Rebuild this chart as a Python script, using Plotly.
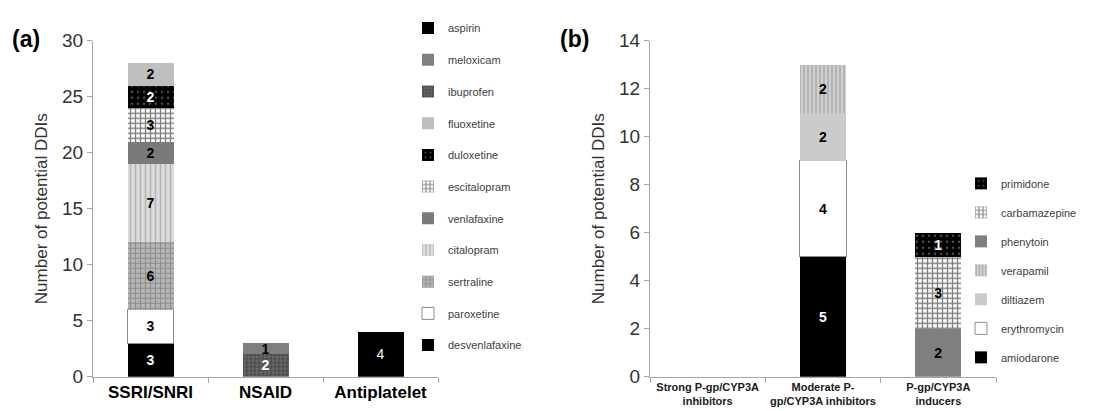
import plotly.graph_objects as go

# ---------------- data ----------------
cats_a = ["SSRI/SNRI", "NSAID", "Antiplatelet"]
desvenlafaxine = [3, None, None]
paroxetine = [3, None, None]
sertraline = [6, None, None]
citalopram = [7, None, None]
venlafaxine = [2, None, None]
escitalopram = [3, None, None]
duloxetine = [2, None, None]
fluoxetine = [2, None, None]
ibuprofen = [None, 2, None]
meloxicam = [None, 1, None]
aspirin = [None, None, 4]

cats_b = ["Strong P-gp/CYP3A<br>inhibitors", "Moderate P-<br>gp/CYP3A inhibitors", "P-gp/CYP3A<br>inducers"]
amiodarone = [None, 5, None]
erythromycin = [None, 4, None]
diltiazem = [None, 2, None]
verapamil = [None, 2, None]
phenytoin = [None, None, 2]
carbamazepine = [None, None, 3]
primidone = [None, None, 1]

W, H = 1094, 411

def px(xp):
    return xp / W

def py(yp):
    return (H - yp) / H

fig = go.Figure()
_rank = [1000]

def add(name, x, y, color, xaxis, yaxis, legend, pattern=None, textcolor="black",
        bold=True, outline=None):
    marker = dict(color=color)
    if pattern:
        marker["pattern"] = pattern
    if outline:
        marker["line"] = dict(color=outline, width=1)
    else:
        marker["line"] = dict(width=0)
    _rank[0] -= 1
    fig.add_trace(go.Bar(
        name=name, x=x, y=y, marker=marker,
        xaxis=xaxis, yaxis=yaxis, legend=legend, legendgroup=name,
        legendrank=_rank[0],
        texttemplate="%{y}", textposition="inside", insidetextanchor="middle",
        textangle=0, constraintext="none",
        textfont=dict(family="Liberation Sans", size=14, color=textcolor,
                      weight="bold" if bold else "normal"),
        hoverinfo="skip",
    ))

# panel (a)
add("desvenlafaxine", cats_a, desvenlafaxine, "#000000", "x", "y", "legend", textcolor="white")
add("paroxetine", cats_a, paroxetine, "#ffffff", "x", "y", "legend", outline="#8c8c8c")
add("sertraline", cats_a, sertraline, "#b5b5b5", "x", "y", "legend",
    pattern=dict(shape="+", fgcolor="#666666", size=5, solidity=0.4, fillmode="overlay"))
add("citalopram", cats_a, citalopram, "#dcdcdc", "x", "y", "legend",
    pattern=dict(shape="|", fgcolor="#8a8a8a", size=5, solidity=0.3, fillmode="overlay"))
add("venlafaxine", cats_a, venlafaxine, "#7a7a7a", "x", "y", "legend")
add("escitalopram", cats_a, escitalopram, "#ffffff", "x", "y", "legend",
    pattern=dict(shape="+", fgcolor="#000000", size=5, solidity=0.45, fillmode="overlay"))
add("duloxetine", cats_a, duloxetine, "#000000", "x", "y", "legend", textcolor="white",
    pattern=dict(shape=".", fgcolor="#9a9a9a", size=6, solidity=0.15, fillmode="overlay"))
add("fluoxetine", cats_a, fluoxetine, "#bfbfbf", "x", "y", "legend")
add("ibuprofen", cats_a, ibuprofen, "#6a6a6a", "x", "y", "legend", textcolor="white",
    pattern=dict(shape="+", fgcolor="#1a1a1a", size=4, solidity=0.4, fillmode="overlay"))
add("meloxicam", cats_a, meloxicam, "#7f7f7f", "x", "y", "legend")
add("aspirin", cats_a, aspirin, "#000000", "x", "y", "legend", textcolor="white", bold=False)

# panel (b)
add("amiodarone", cats_b, amiodarone, "#000000", "x2", "y2", "legend2", textcolor="white")
add("erythromycin", cats_b, erythromycin, "#ffffff", "x2", "y2", "legend2", outline="#8c8c8c")
add("diltiazem", cats_b, diltiazem, "#cbcbcb", "x2", "y2", "legend2")
add("verapamil", cats_b, verapamil, "#d0d0d0", "x2", "y2", "legend2",
    pattern=dict(shape="|", fgcolor="#6e6e6e", size=4, solidity=0.3, fillmode="overlay"))
add("phenytoin", cats_b, phenytoin, "#7f7f7f", "x2", "y2", "legend2")
add("carbamazepine", cats_b, carbamazepine, "#ffffff", "x2", "y2", "legend2",
    pattern=dict(shape="+", fgcolor="#000000", size=5, solidity=0.45, fillmode="overlay"))
add("primidone", cats_b, primidone, "#000000", "x2", "y2", "legend2", textcolor="white",
    pattern=dict(shape=".", fgcolor="#9a9a9a", size=6, solidity=0.15, fillmode="overlay"))

axis_line = "#a6a6a6"
tickfont_y = dict(family="Liberation Sans", size=19, color="#333333")
ytitle_font = dict(family="Liberation Sans", size=17, color="#333333")

fig.update_layout(
    width=W, height=H,
    margin=dict(l=0, r=0, t=0, b=0),
    paper_bgcolor="white", plot_bgcolor="white",
    barmode="stack", bargap=0.6,
    showlegend=True,
    xaxis=dict(domain=[px(85), px(430)], anchor="y", type="category",
               categoryorder="array", categoryarray=cats_a, range=[-0.5, 2.5],
               showline=True, linecolor=axis_line, linewidth=1,
               ticks="outside", tickson="boundaries", ticklen=5, tickcolor=axis_line,
               tickfont=dict(family="Liberation Sans", size=17, color="#000000", weight="bold"),
               showgrid=False, zeroline=False, fixedrange=True),
    yaxis=dict(domain=[py(378), py(24)], anchor="x", range=[0, 30], dtick=5,
               showline=True, linecolor=axis_line, linewidth=1,
               ticks="outside", ticklen=5, tickcolor=axis_line,
               tickfont=tickfont_y, showgrid=False, zeroline=False,
               title=dict(text="Number of potential DDIs", font=ytitle_font, standoff=10)),
    xaxis2=dict(domain=[px(642), px(988)], anchor="y2", type="category",
                categoryorder="array", categoryarray=cats_b, range=[-0.5, 2.5],
                showline=True, linecolor=axis_line, linewidth=1,
                ticks="outside", tickson="boundaries", ticklen=5, tickcolor=axis_line,
                tickfont=dict(family="Liberation Sans", size=11, color="#1a1a1a", weight="bold"),
                showgrid=False, zeroline=False),
    yaxis2=dict(domain=[py(378), py(24)], anchor="x2", range=[0, 14], dtick=2,
                showline=True, linecolor=axis_line, linewidth=1,
                ticks="outside", ticklen=5, tickcolor=axis_line,
                tickfont=tickfont_y, showgrid=False, zeroline=False,
                title=dict(text="Number of potential DDIs", font=ytitle_font, standoff=10)),
    legend=dict(x=px(400), y=py(360), xanchor="left", yanchor="bottom",
                traceorder="grouped", tracegroupgap=12.7,
                font=dict(family="Liberation Sans", size=11, color="#404040"),
                bgcolor="rgba(0,0,0,0)", itemclick=False, itemdoubleclick=False),
    legend2=dict(x=px(953), y=py(159), xanchor="left", yanchor="top",
                 traceorder="grouped", tracegroupgap=10,
                 font=dict(family="Liberation Sans", size=11, color="#404040"),
                 bgcolor="rgba(0,0,0,0)", itemclick=False, itemdoubleclick=False),
    annotations=[
        dict(text="<b>(a)</b>", x=px(2), y=py(22), xref="paper", yref="paper",
             xanchor="left", yanchor="middle", showarrow=False,
             font=dict(family="Liberation Sans", size=23, color="#000000")),
        dict(text="<b>(b)</b>", x=px(550), y=py(22), xref="paper", yref="paper",
             xanchor="left", yanchor="middle", showarrow=False,
             font=dict(family="Liberation Sans", size=23, color="#000000")),
    ],
)

fig.write_html("out.html")
